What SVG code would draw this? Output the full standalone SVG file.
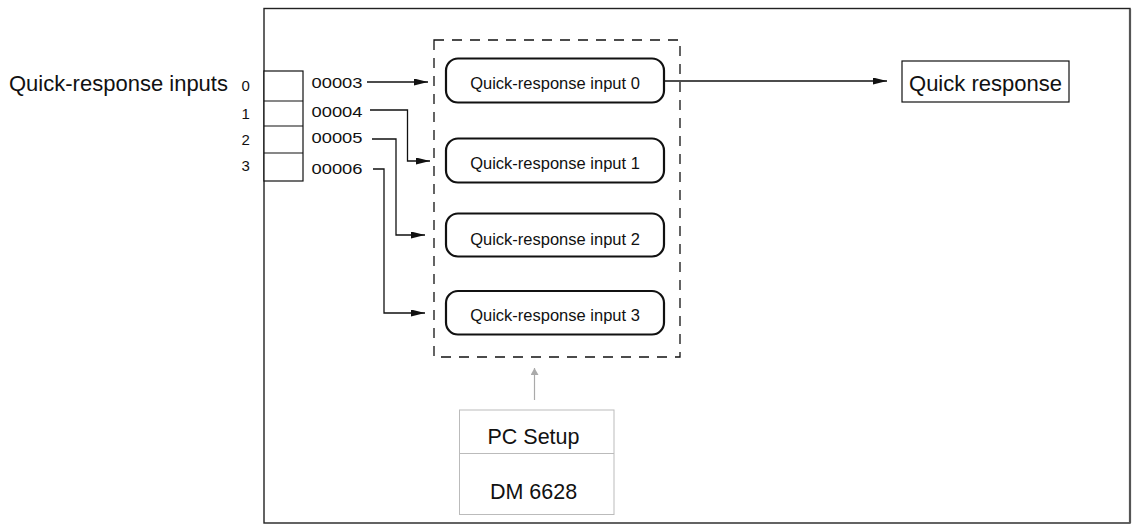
<svg xmlns="http://www.w3.org/2000/svg" width="1137" height="528" viewBox="0 0 1137 528">
<style>
text{font-family:"Liberation Sans",Arial,sans-serif;fill:#111}
.node rect{fill:#fff;stroke:#111;stroke-width:2.2}
.lbl{font-size:16.5px}
.big{font-size:21.5px}
.num{font-size:15.5px}
.idx{font-size:15px}
.conn{fill:none;stroke:#111;stroke-width:1.3}
</style>
<defs>
<marker id="ah" markerUnits="userSpaceOnUse" markerWidth="14" markerHeight="7" refX="14" refY="3.5" orient="auto">
<path d="M0,0 L14,3.5 L0,7 z" fill="#111"/>
</marker>
<marker id="ahg" markerUnits="userSpaceOnUse" markerWidth="7" markerHeight="8" refX="7" refY="4" orient="auto">
<path d="M0,0 L7,4 L0,8 z" fill="#aaa"/>
</marker>
</defs>
<rect width="1137" height="528" fill="#fff"/>
<g id="frame">
<rect x="264" y="8.5" width="866" height="514.5" fill="none" stroke="#222" stroke-width="1.4"/>
<line x1="1130" y1="9" x2="1130" y2="523" stroke="#555" stroke-width="2.2"/>
</g>
<g id="inputs">
<text x="9" y="91" class="big" textLength="219" lengthAdjust="spacingAndGlyphs">Quick-response inputs</text>
<text x="241.5" y="90.5" class="idx">0</text>
<text x="241.5" y="118.5" class="idx">1</text>
<text x="241.5" y="144.5" class="idx">2</text>
<text x="241.5" y="170.5" class="idx">3</text>
<rect x="264" y="71" width="39" height="110" fill="#fff" stroke="#111" stroke-width="1.2"/>
<line x1="264" y1="101" x2="303" y2="101" stroke="#111" stroke-width="1.2"/>
<line x1="264" y1="126" x2="303" y2="126" stroke="#111" stroke-width="1.2"/>
<line x1="264" y1="153" x2="303" y2="153" stroke="#111" stroke-width="1.2"/>
<text x="311.5" y="87.5" class="num" textLength="51" lengthAdjust="spacingAndGlyphs">00003</text>
<text x="311.5" y="116.5" class="num" textLength="51" lengthAdjust="spacingAndGlyphs">00004</text>
<text x="311.5" y="143" class="num" textLength="51" lengthAdjust="spacingAndGlyphs">00005</text>
<text x="311.5" y="173.5" class="num" textLength="51" lengthAdjust="spacingAndGlyphs">00006</text>
</g>
<g id="group">
<rect x="434" y="40" width="246" height="317" fill="none" stroke="#111" stroke-width="1.3" stroke-dasharray="10 8"/>
</g>
<g id="qr0" class="node"><rect x="446" y="58.5" width="218" height="44" rx="12"/><text x="555" y="88.5" class="lbl" text-anchor="middle">Quick-response input 0</text></g>
<g id="qr1" class="node"><rect x="446" y="138.5" width="218" height="44" rx="12"/><text x="555" y="168.5" class="lbl" text-anchor="middle">Quick-response input 1</text></g>
<g id="qr2" class="node"><rect x="446" y="213.5" width="218" height="43" rx="12"/><text x="555" y="244.5" class="lbl" text-anchor="middle">Quick-response input 2</text></g>
<g id="qr3" class="node"><rect x="446" y="291" width="218" height="43.5" rx="12"/><text x="555" y="320.5" class="lbl" text-anchor="middle">Quick-response input 3</text></g>
<g id="quick-response">
<rect x="902" y="61" width="167" height="41" fill="#fff" stroke="#111" stroke-width="1.2"/>
<text x="985.5" y="90.5" class="big" text-anchor="middle" textLength="153" lengthAdjust="spacingAndGlyphs">Quick response</text>
</g>
<g id="pc-setup">
<rect x="459.5" y="410" width="154.5" height="104.5" fill="#fff" stroke="#bbb" stroke-width="1"/>
<line x1="459.5" y1="453.5" x2="614" y2="453.5" stroke="#bbb" stroke-width="1"/>
<text x="533.5" y="443.5" class="big" text-anchor="middle">PC Setup</text>
<text x="533.5" y="499" class="big" text-anchor="middle">DM 6628</text>
</g>
<g id="connectors">
<path class="conn" d="M367,82 H428" marker-end="url(#ah)"/>
<path class="conn" d="M370,110 H407.5 V161 H430" marker-end="url(#ah)"/>
<path class="conn" d="M372,139 H396 V235 H425" marker-end="url(#ah)"/>
<path class="conn" d="M373,169 H384 V313 H425" marker-end="url(#ah)"/>
<path class="conn" d="M664,81 H887" marker-end="url(#ah)"/>
<path d="M534.5,400 V368" fill="none" stroke="#aaa" stroke-width="1.2" marker-end="url(#ahg)"/>
</g>
</svg>
